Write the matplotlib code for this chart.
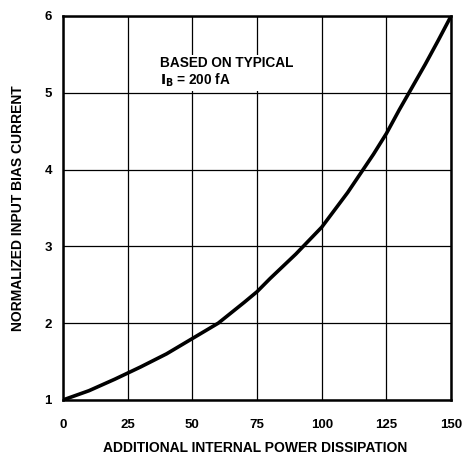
import matplotlib
matplotlib.use("Agg")
import matplotlib.pyplot as plt

# valeurs
power = [0, 10, 20, 25, 30, 40, 50, 60, 70, 75, 80, 90, 100, 110, 120, 125, 130, 140, 145, 150]
bias = [1.0, 1.12, 1.27, 1.35, 1.43, 1.6, 1.8, 2.0, 2.27, 2.41, 2.58, 2.9, 3.25, 3.7, 4.2, 4.47, 4.78, 5.37, 5.68, 6.0]

x_ticks = [0, 25, 50, 75, 100, 125, 150]
y_ticks = [1, 2, 3, 4, 5, 6]

plt.rcParams['font.family'] = ['Liberation Sans', 'DejaVu Sans']

fig = plt.figure(figsize=(4.67, 4.55), dpi=100)
ax = fig.add_axes([0.135, 0.121, 0.831, 0.844])

ax.plot(power, bias, color='black', lw=2.6, solid_capstyle='round', solid_joinstyle='round')

ax.set_xlim(0, 150)
ax.set_ylim(1, 6)
ax.set_xticks(x_ticks)
ax.set_yticks(y_ticks)
ax.grid(True, color='black', lw=0.9)
ax.tick_params(length=0, labelsize=9.5, pad=14)
ax.tick_params(axis='y', pad=8)
for lbl in ax.get_xticklabels() + ax.get_yticklabels():
    lbl.set_fontweight('bold')
for sp in ax.spines.values():
    sp.set_linewidth(1.8)

# titre de l'axe x pose a la main (sinon coupe en bas)
fig.text(0.546, 0.016, "ADDITIONAL INTERNAL POWER DISSIPATION", fontsize=10, fontweight='bold',
         ha='center', va='center')
ax.set_ylabel("NORMALIZED INPUT BIAS CURRENT", fontsize=10, fontweight='bold', labelpad=14)

ax.text(37.5, 5.48, "BASED ON TYPICAL\n$\\mathbf{I_B}$ = 200 fA", fontsize=9.8, fontweight='bold',
        va='top', ha='left', linespacing=1.1,
        bbox=dict(facecolor='white', edgecolor='none', pad=2))

fig.savefig("out.png", dpi=100)
